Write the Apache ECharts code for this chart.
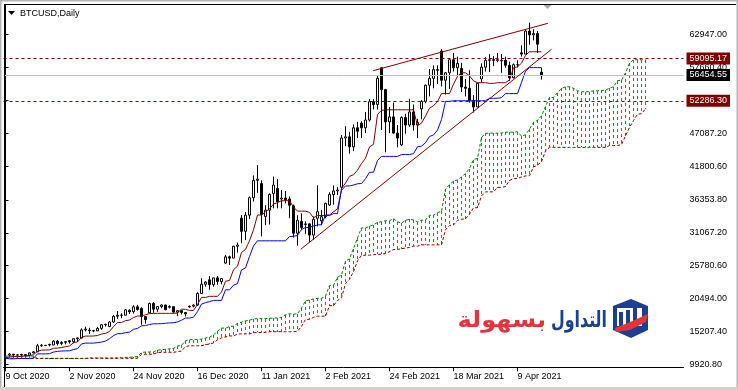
<!DOCTYPE html>
<html><head><meta charset="utf-8">
<script src="https://cdn.jsdelivr.net/npm/echarts@6/dist/echarts.min.js"></script>
<style>html,body{margin:0;padding:0;background:#fff}#c{width:738px;height:390px}</style>
</head><body><div id="c"></div>
<script>
// ---- data ----
const tickLabels = ['9 Oct 2020','2 Nov 2020','24 Nov 2020','16 Dec 2020','11 Jan 2021','2 Feb 2021','24 Feb 2021','18 Mar 2021','9 Apr 2021'];
const tickBars = [0,16,32,48,64,80,96,112,128];
const priceTicks = [9920.80,15207.40,20494.00,25780.60,31067.20,36353.80,41800.60,47087.20,52373.80,57660.40,62947.00];

const open = [10930,11380,11550,11430,11430,11500,11400,11750,11920,12900,
12970,13100,13030,13640,13270,13450,13700,13550,14030,14150,
15450,15400,15330,15290,15700,16280,16000,16720,17650,17800,
17820,18600,18370,19160,18900,17600,18200,19700,18790,19210,
19450,19100,19190,18320,18550,18250,19150,19270,19440,21310,
22800,23500,22720,23820,23240,26200,27200,27000,28900,33400,
31300,33900,36700,39500,39000,33700,34700,37400,38200,36500,
36650,36500,35400,31000,32900,32400,32500,30700,33400,33000,
33660,35540,37200,37800,38400,46300,46500,44900,47950,48700,
47950,49200,52150,51700,57600,54100,48900,49700,47100,45200,
49600,48400,50500,48400,51000,52200,54800,55900,57300,60300,
55600,56800,58900,57600,57500,54500,54300,52300,51300,55800,
57700,58800,58900,58800,58700,58800,58000,56000,58100,60000,
59800,63500,62900,63100,56900];
const close = [11060,11550,11430,11430,11500,11330,11750,11920,12900,12970,
12930,13030,13640,13270,13450,13560,13550,14030,14150,15450,
15580,15330,15290,15700,16280,16330,16720,17650,17800,17820,
18680,18370,19160,18730,17600,17100,19700,18790,19210,19450,
18700,19190,18320,18550,18250,18040,19270,19440,21310,22800,
23140,22720,23820,23240,23730,27200,27000,28900,29100,31300,
33900,36700,39500,39700,34000,34700,37250,38750,36070,36650,
36400,35500,31000,33100,31900,32500,30700,33230,34460,33660,
35800,37250,37800,37950,46300,46500,44900,47950,47400,47950,
49200,52150,51700,55900,54100,48900,49700,47100,46300,49600,
48400,50500,48400,48800,52200,54800,55900,57300,57200,55600,
56800,58900,57600,58300,54500,54300,52300,51300,55100,57700,
58800,58900,58800,58900,58800,58000,56000,58100,58100,59800,
63500,62900,63100,61400,56454.55];
const low = [10830,11200,11250,11300,11280,11220,11380,11680,11900,12750,
12880,12800,13000,12950,12990,13130,13240,13300,13530,14100,
15200,14800,15080,15280,15460,15990,15900,16570,17220,17340,
17770,18000,18070,18570,16300,16450,18100,18200,18350,18930,
18600,18900,18200,17650,17920,17600,19000,19060,19300,21250,
22400,21900,22400,22700,22800,26100,25900,26950,27900,29400,
29900,33300,36100,37500,30500,32300,32400,35000,35000,35000,
35800,33400,30300,29000,31500,30900,29600,29900,32100,32300,
33400,35400,35600,37150,37950,45000,43800,44200,46300,46300,
47100,48950,50900,50900,47600,44000,47100,47000,44800,45000,
47000,48100,47500,46300,49300,51900,53000,54300,55000,54600,
53300,54200,57000,56300,53700,53000,52000,50400,51300,55200,
57000,56900,57900,58500,56800,57600,55500,55900,57700,59400,
59800,61300,62000,60000,55700];
const high = [11100,11720,11560,11550,11630,11540,11820,12030,13200,13190,
13030,13250,13780,13840,13630,13670,13810,14060,14250,15700,
15960,15800,15460,15940,16330,16480,16870,17860,18480,18120,
18800,18760,19420,19480,19100,17450,19850,19920,19300,19570,
19520,19410,19290,18640,18570,18270,19350,19560,21500,23750,
23250,24100,23840,24100,23790,27500,27400,29000,29500,33900,
34400,36900,40300,41950,39500,35500,37400,40100,39700,37950,
37800,36900,35600,33900,34200,32900,32600,33700,38700,34700,
35900,37600,38700,38400,46800,48200,47300,48500,48900,49000,
50500,52600,52550,56400,57700,54200,51300,52000,48400,49800,
50200,52600,51700,49400,52400,54900,57400,58000,58000,60600,
56900,58900,60000,59400,58400,55800,57200,53200,55200,58300,
59300,59800,59500,60000,59800,59400,58600,58300,58800,61200,
63700,64850,63800,63500,57600];

const tenkan = [10950,11100,11150,11150,11200,11250,11350,11450,12015,12200,
12210,12235,12500,12530,12610,12760,12870,13405,13525,14250,
14455,14455,14475,14545,14785,14890,15200,15980,16640,16640,
16940,17040,17440,17690,17690,17890,18075,18110,18110,18110,
18110,18110,18110,18185,18785,18760,18585,18585,19550,20675,
20675,20850,20850,20850,21550,23280,23400,25120,25700,27900,
28400,29800,31550,33925,33925,34450,34925,35675,35925,36225,
36225,36225,35200,34550,34550,34550,34350,33475,33850,33850,
33850,33850,34150,34150,38200,39050,40150,40400,41150,42200,
43050,44875,45275,50100,50750,50850,50850,50850,50850,50850,
50850,50850,50850,48300,48700,49850,51100,51500,52150,53450,
53450,53450,54950,56250,56800,56800,56300,55500,55200,55200,
55200,55100,55100,55200,55200,55200,55650,57600,57750,58350,
59600,60175,60175,60175,60175];
const kijun = [10900,10800,10800,10850,10850,10850,10850,10900,11600,11600,
11600,11620,11890,12000,12050,12080,12100,12300,12430,13200,
13330,13330,13330,13400,13500,13655,14035,14540,14850,14850,
15010,15090,15550,15690,16115,16140,16325,16435,16435,16455,
16525,16580,16610,16725,17010,17360,17360,17500,18390,19605,
19825,20000,20200,20200,20200,21900,21900,22650,22900,25100,
25425,27250,28950,29775,29775,29775,29775,29775,29775,29775,
29775,30475,30505,30625,31600,31925,31925,32175,32325,32375,
33925,33925,34450,34925,37900,38600,38600,38750,38950,39000,
39750,40800,40800,42700,43350,43350,43350,43350,43350,43650,
43650,43650,43800,44900,45000,45550,46550,46800,47575,49275,
52200,52200,52300,52300,52300,52300,52300,52300,52300,52300,
52300,52700,52700,52700,52800,53450,53450,53450,53450,55250,
57050,57625,57625,57625,57625];
// Senkou spans as plotted (already shifted 26 bars forward), 161 bars
const spanA = [11250,11250,11250,11250,11250,11250,11250,11250,
10850,10850,10850,10850,10850,10850,10850,10850,10850,10850,10850,10850,10850,
10950,10950,10950,10950,10950,
10925,10950,10975,11000,11025,11050,11100,11175,11808,11900,
11905,11928,12195,12265,12330,12420,12485,12853,12978,13725,
13893,13893,13903,13973,14143,14273,14618,15260,15745,15745,
15975,16065,16495,16690,16903,17015,17200,17273,17273,17283,
17318,17345,17360,17455,17898,18060,17973,18043,18970,20140,
20250,20425,20525,20525,20875,22590,22650,23885,24300,26500,
26913,28525,30250,31850,31850,32113,32350,32725,32850,33000,
33000,33350,32853,32588,33075,33238,33138,32825,33088,33113,
33888,33888,34300,34538,38050,38825,39375,39575,40050,40600,
41400,42838,43038,46400,47050,47100,47100,47100,47100,47250,
47250,47250,47325,46600,46850,47700,48825,49150,49863,51363,
52825,52825,53625,54275,54550,54550,54300,53900,53750,53750,
53750,53900,53900,53950,54000,54325,54550,55525,55600,56800,
58325,58900,58900,58900,58900];
const spanB = [10880,10880,10880,10880,10880,10880,10880,10880,10880,10880,
10880,10880,10880,10880,10880,10880,10880,10880,10880,10880,
10880,10880,10880,10880,10880,10880,
10880,10880,10880,10880,10880,10880,10880,10880,
11525,11525,11525,11550,11815,11845,11845,11845,11845,11955,12050,12775,
12905,12905,12905,12905,13090,13165,13360,13855,14165,14315,
14475,14475,14785,14815,14815,14815,15000,15035,15035,15035,
15160,15160,15160,15160,15160,15160,15160,15235,16025,17150,
17150,17465,17650,17660,17660,19350,19350,20185,20590,22900,
23575,24850,26550,27450,27450,27470,27540,27595,27625,27740,
28025,28375,28375,28515,28615,28705,28925,28925,29125,29125,
29125,29125,29125,29125,31550,32250,32325,33050,33250,33300,
34050,35100,35100,37000,37650,37650,37650,38350,38380,38500,
39475,39800,39800,40050,40200,40250,41650,41950,42475,44250,
44800,44800,44800,44800,44800,44800,44800,44800,44800,44800,
44800,44800,44800,44800,44800,45100,45100,45100,45250,46650,
48000,49125,50125,50225,51000];

// manual trend lines: [bar position, price]
const upperTrend = [[91.9, 57130], [135.6, 64753]];
const lowerTrend = [[73.8, 28413], [136.5, 60573]];
// horizontal price levels
const resistanceLevel = 59095.17;
const supportLevel = 52286.30;
const bidPrice = 56454.55;

// ---- chart ----
const SLOTS = 170;
const slotNames = Array.from({length: SLOTS}, (_, i) => String(i));
const candles = open.map((o, i) => [o, close[i], low[i], high[i]]);
const isTick = (idx) => tickBars.indexOf(idx) >= 0;
const FONT = '"Liberation Sans", Arial, sans-serif';
const MAROON = '#800000';
const GREEN = '#008000';
const HATCH = '#00a000';

const hatch = spanA.map((a, i) => [i, Math.min(a, spanB[i]), Math.max(a, spanB[i])]);

const chart = echarts.init(document.getElementById('c'), null, {renderer: 'canvas'});

function tag(v, bg) {
  return {
    yAxis: v,
    lineStyle: bg === '#000000' ? {color: '#c0c0c0', type: 'solid', width: 1} : {color: MAROON, type: [3, 3], width: 1},
    label: {show: true, position: 'end', distance: 3, formatter: v.toFixed(2), color: '#ffffff',
      backgroundColor: bg, padding: [2, 3, 1, 3], fontFamily: FONT, fontSize: 9, lineHeight: 9}
  };
}

chart.setOption({
  animation: false,
  backgroundColor: '#ffffff',
  grid: {left: 3.5, right: 54.5, top: 4.5, bottom: 22.7, containLabel: false, outerBoundsMode: 'none'},
  xAxis: [{
    type: 'category', data: slotNames, boundaryGap: true,
    axisLine: {show: true, lineStyle: {color: '#000', width: 1}},
    axisTick: {show: true, alignWithLabel: true, interval: (i) => isTick(i), length: 4, lineStyle: {color: '#000'}},
    axisLabel: {show: true, interval: (i) => isTick(i), align: 'left', margin: 5,
      formatter: (v) => { const k = tickBars.indexOf(Number(v)); return k >= 0 ? tickLabels[k] : ''; },
      color: '#000', fontFamily: FONT, fontSize: 9},
    splitLine: {show: false}
  }, {
    type: 'value', min: -0.5, max: SLOTS - 0.5, show: false
  }],
  yAxis: {
    type: 'value', position: 'right', min: 9438, max: 67777, scale: true,
    axisLine: {show: true, lineStyle: {color: '#000', width: 1}},
    axisTick: {show: true, customValues: priceTicks, length: 3, lineStyle: {color: '#000'}},
    axisLabel: {show: true, customValues: priceTicks, margin: 6, formatter: (v) => v.toFixed(2),
      color: '#000', fontFamily: FONT, fontSize: 9},
    splitLine: {show: false}
  },
  series: [
    {
      type: 'custom', name: 'kumo', data: hatch, z: 1, clip: true,
      encode: {x: 0, y: [1, 2]},
      renderItem: (params, api) => {
        const i = api.value(0);
        const pa = api.coord([i, api.value(2)]), pb = api.coord([i, api.value(1)]);
        const x = Math.round(pa[0] - 0.5) + 0.5;
        return {type: 'line', shape: {x1: x, y1: Math.round(pa[1]), x2: x, y2: Math.round(pb[1])},
          style: {stroke: HATCH, lineWidth: 1, lineDash: [3, 3]}};
      }
    },
    {type: 'line', name: 'Senkou A', data: spanA, symbol: 'none', z: 2,
      lineStyle: {color: GREEN, width: 1, type: [3, 2]}},
    {type: 'line', name: 'Senkou B', data: spanB, symbol: 'none', z: 2,
      lineStyle: {color: MAROON, width: 1, type: [3, 2]}},
    {
      type: 'candlestick', name: 'BTCUSD', data: candles, barWidth: 2, z: 3,
      itemStyle: {color: '#ffffff', color0: '#000000', borderColor: '#000000', borderColor0: '#000000', borderWidth: 1},
      markLine: {silent: true, symbol: ['none', 'none'], animation: false,
        data: [tag(resistanceLevel, MAROON), tag(bidPrice, '#000000'), tag(supportLevel, MAROON)]}
    },
    {type: 'line', name: 'Tenkan', data: tenkan, symbol: 'none', z: 4, lineStyle: {color: MAROON, width: 1}},
    {type: 'line', name: 'Kijun', data: kijun, symbol: 'none', z: 4, lineStyle: {color: '#0000ff', width: 1}},
    {type: 'line', name: 'upper trend', xAxisIndex: 1, data: upperTrend, symbol: 'none', z: 5, lineStyle: {color: MAROON, width: 1}},
    {type: 'line', name: 'lower trend', xAxisIndex: 1, data: lowerTrend, symbol: 'none', z: 5, lineStyle: {color: MAROON, width: 1}}
  ],
  graphic: [
    {type: 'rect', shape: {x: 0.75, y: 0.75, width: 736.5, height: 388.5}, style: {fill: 'none', stroke: '#b4b4b4', lineWidth: 1.5}, silent: true, z: 100},
    {type: 'rect', shape: {x: 0, y: 387, width: 738, height: 3}, style: {fill: '#d4d0c8'}, silent: true, z: 100},
    {type: 'line', shape: {x1: 4, y1: 4.5, x2: 736, y2: 4.5}, style: {stroke: '#000', lineWidth: 1}, silent: true, z: 100},
    {type: 'line', shape: {x1: 4.5, y1: 4, x2: 4.5, y2: 387}, style: {stroke: '#000', lineWidth: 1}, silent: true, z: 100},
    {type: 'polygon', shape: {points: [[8, 11], [15, 11], [11.5, 15]]}, style: {fill: '#000'}, silent: true, z: 100},
    {type: 'text', x: 20, y: 13.5, style: {text: 'BTCUSD,Daily', fill: '#000', font: '9px ' + FONT, textVerticalAlign: 'middle'}, silent: true, z: 100},
    {type: 'polygon', shape: {points: [[543.5, 5], [551.5, 5], [547.5, 9]]}, style: {fill: '#a8a8a8'}, silent: true, z: 100},
    // logo
    {type: 'text', x: 607, y: 321, scaleX: 0.72, style: {text: 'التداول', fill: '#1c3f95', font: 'bold 22px "DejaVu Sans"', textAlign: 'right', textVerticalAlign: 'middle'}, silent: true, z: 100},
    {type: 'text', x: 546, y: 321, scaleX: 1.1, style: {text: 'بسهولة', fill: '#e3343c', font: 'bold 22px "DejaVu Sans"', textAlign: 'right', textVerticalAlign: 'middle'}, silent: true, z: 100},
    {type: 'polygon', shape: {points: [[613, 306], [631, 299], [648, 306], [648, 330], [631, 338], [613, 330]]}, style: {fill: '#1c3f95'}, silent: true, z: 100},
    {type: 'rect', shape: {x: 617, y: 308, width: 25, height: 18}, style: {fill: '#ffffff'}, silent: true, z: 101},
    {type: 'rect', shape: {x: 619, y: 312, width: 4, height: 14}, style: {fill: '#1c3f95'}, silent: true, z: 102},
    {type: 'rect', shape: {x: 626, y: 310, width: 4, height: 16}, style: {fill: '#1c3f95'}, silent: true, z: 102},
    {type: 'rect', shape: {x: 633, y: 308, width: 4, height: 18}, style: {fill: '#1c3f95'}, silent: true, z: 102},
    {type: 'polygon', shape: {points: [[615, 328], [630, 322], [648, 314], [646, 322], [630, 330], [616, 332]]}, style: {fill: '#e3343c'}, silent: true, z: 103}
  ]
});
</script>
</body></html>
